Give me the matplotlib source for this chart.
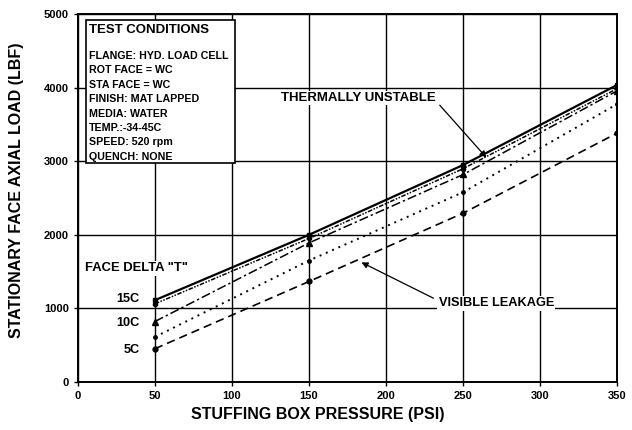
import matplotlib.pyplot as plt

plt.rcParams['font.family'] = ['Liberation Sans', 'DejaVu Sans']
plt.rcParams['font.weight'] = 'bold'

pressure = [50, 150, 250, 350]
thermally_unstable = [1110, 2000, 2950, 4040]
delta_15c = [1060, 1950, 2900, 3990]
delta_10c = [820, 1890, 2820, 3960]
delta_5c = [610, 1650, 2580, 3780]
visible_leakage = [450, 1365, 2295, 3385]

xticks = [0, 50, 100, 150, 200, 250, 300, 350]
yticks = [0, 1000, 2000, 3000, 4000, 5000]

conditions = ["FLANGE: HYD. LOAD CELL", "ROT FACE = WC", "STA FACE = WC",
              "FINISH: MAT LAPPED", "MEDIA: WATER", "TEMP.:-34-45C",
              "SPEED: 520 rpm", "QUENCH: NONE"]

fig = plt.figure(figsize=(6.32, 4.30), dpi=100)
ax = fig.add_axes([0.123, 0.112, 0.854, 0.855])

ax.plot(pressure, thermally_unstable, ls='-', lw=1.6, color='black', marker='s', ms=3.5)
ax.plot(pressure, delta_15c, ls=(0, (3, 1, 1, 1, 1, 1)), lw=1.1, color='black', marker='o', ms=3)
ax.plot(pressure, delta_10c, ls=(0, (6, 2, 1.5, 2)), lw=1.1, color='black', marker='^', ms=4)
ax.plot(pressure, delta_5c, ls=(0, (1, 2.5)), lw=1.4, color='black', marker='o', ms=2.5)
ax.plot(pressure, visible_leakage, ls=(0, (5, 3)), lw=1.2, color='black', marker='o', ms=3.5)

ax.set_xlim(0, 350)
ax.set_ylim(0, 5000)
ax.set_xticks(xticks)
ax.set_yticks(yticks)
ax.grid(True, color='black', lw=1.0)
for s in ax.spines.values():
    s.set_linewidth(1.4)
ax.tick_params(labelsize=8, length=3, width=1)

ax.set_xlabel("STUFFING BOX PRESSURE (PSI)", fontsize=11.5, fontweight='bold')
ax.set_ylabel("STATIONARY FACE AXIAL LOAD (LBF)", fontsize=11.5, fontweight='bold')
ax.xaxis.set_label_coords(0.445, -0.068)
ax.yaxis.set_label_coords(-0.099, 0.52)

ax.text(7, 4870, "TEST CONDITIONS", fontsize=9.5, fontweight='bold', va='top', ha='left', zorder=6)
ax.text(7, 4500, "\n".join(conditions), fontsize=7.7, fontweight='bold', va='top', ha='left',
        linespacing=1.55, zorder=6)
ax.add_patch(plt.Rectangle((5.5, 2970), 96.5, 1955, fill=True, facecolor='white',
                           edgecolor='black', lw=1.2, zorder=5))

ax.annotate("THERMALLY UNSTABLE", xy=(265, 3050), xytext=(232, 3860),
            ha='right', va='center', fontsize=9.5, fontweight='bold',
            bbox=dict(facecolor='white', edgecolor='none', pad=1),
            arrowprops=dict(arrowstyle='-|>', color='black', lw=0.9, shrinkA=3, shrinkB=0,
                            relpos=(1.0, 0.3)))
ax.annotate("VISIBLE LEAKAGE", xy=(184, 1625), xytext=(234, 1070),
            ha='left', va='center', fontsize=9.2, fontweight='bold',
            bbox=dict(facecolor='white', edgecolor='none', pad=1),
            arrowprops=dict(arrowstyle='-|>', color='black', lw=0.9, shrinkA=3, shrinkB=0,
                            relpos=(0.0, 0.7)))

ax.text(5, 1545, 'FACE DELTA "T"', fontsize=9.4, fontweight='bold', va='center', ha='left',
        bbox=dict(facecolor='white', edgecolor='none', pad=1))
for lab, yv in [("15C", 1120), ("10C", 800), ("5C", 430)]:
    ax.text(40, yv, lab, fontsize=9.2, fontweight='bold', va='center', ha='right',
            bbox=dict(facecolor='white', edgecolor='none', pad=0.5))

fig.savefig('out.png', dpi=100)
